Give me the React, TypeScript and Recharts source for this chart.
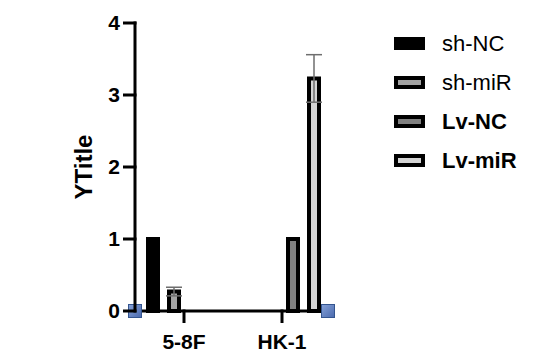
import React from 'react';
import { BarChart, Bar, XAxis, YAxis, ErrorBar } from 'recharts';

const categories = ['5-8F', 'HK-1'];
const shNC = [1, null];
const shMiR = [0.27, null];
const shMiRErr = [0.06, null];
const lvNC = [null, 1];
const lvMiR = [null, 3.23];
const lvMiRErr = [null, 0.33];
const yTicks = [0, 1, 2, 3, 4];

const series = [
  { key: 'shNC', name: 'sh-NC', fill: '#000000', bold: false, err: null },
  { key: 'shMiR', name: 'sh-miR', fill: '#a3a3a3', bold: false, err: 'shMiRErr' },
  { key: 'lvNC', name: 'Lv-NC', fill: '#808080', bold: true, err: null },
  { key: 'lvMiR', name: 'Lv-miR', fill: '#d4d4d4', bold: true, err: 'lvMiRErr' },
];

const data = categories.map((name, i) => ({
  name,
  shNC: shNC[i],
  shMiR: shMiR[i],
  shMiRErr: shMiRErr[i],
  lvNC: lvNC[i],
  lvMiR: lvMiR[i],
  lvMiRErr: lvMiRErr[i],
}));

const FONT = "'Liberation Sans', Arial, Helvetica, sans-serif";
const W = 550;
const H = 359;
const MARGIN = { top: 23, right: 219, bottom: 0, left: 0 };
const Y_WIDTH = 135;
const X_HEIGHT = 48;
const TICK = 12;
const Y_TICK_GAP = 3;
const X_TICK_GAP = 11;
const INK = '#000';
const LINE_W = 3;

// y tick: draws its own tick mark next to the label
function YTick(props: any) {
  const { x, y, payload } = props;
  const x1 = x + Y_TICK_GAP;
  return (
    <g>
      <line x1={x1} x2={x1 + TICK + 1.5} y1={y} y2={y} stroke={INK} strokeWidth={LINE_W} />
      <text x={x} y={y} dy="0.35em" textAnchor="end" fontFamily={FONT} fontSize={21} fontWeight={700} fill={INK}>
        {payload.value}
      </text>
    </g>
  );
}

// x tick: tick mark hangs below the axis, label under it
function XTick(props: any) {
  const { x, y, payload } = props;
  const y2 = y - X_TICK_GAP;
  return (
    <g>
      <line x1={x} x2={x} y1={y2 - TICK - 1.5} y2={y2} stroke={INK} strokeWidth={LINE_W} />
      <text x={x} y={y} dy="0.71em" textAnchor="middle" fontFamily={FONT} fontSize={21} fontWeight={700} fill={INK}>
        {payload.value}
      </text>
    </g>
  );
}

// y axis line + rotated title, placed from the axis viewBox
function YDecor(props: any) {
  const vb = props.viewBox || { x: 0, y: 0, width: 0, height: 0 };
  const ax = vb.x + vb.width;
  const tx = vb.x + 84;
  const ty = vb.y + vb.height / 2;
  return (
    <g>
      <line x1={ax} x2={ax} y1={vb.y - 1.5} y2={vb.y + vb.height + 1.5} stroke={INK} strokeWidth={LINE_W} />
      <text
        x={tx}
        y={ty}
        dy="0.35em"
        transform={`rotate(-90 ${tx} ${ty})`}
        textAnchor="middle"
        fontFamily={FONT}
        fontSize={24}
        fontWeight={700}
        fill={INK}
      >
        YTitle
      </text>
    </g>
  );
}

// x axis line + the blue handles at both of its ends
function XDecor(props: any) {
  const vb = props.viewBox || { x: 0, y: 0, width: 0, height: 0 };
  const left = vb.x;
  const right = vb.x + vb.width - 3;
  return (
    <g>
      <defs>
        <linearGradient id="handleFill" x1="0" y1="0" x2="1" y2="1">
          <stop offset="0%" stopColor="#86a2d8" />
          <stop offset="100%" stopColor="#4a69ad" />
        </linearGradient>
      </defs>
      <line x1={left} x2={right} y1={vb.y} y2={vb.y} stroke={INK} strokeWidth={LINE_W} />
      {[left, right].map((cx) => (
        <rect
          key={cx}
          x={cx - 6.5}
          y={vb.y - 6.5}
          width={13}
          height={13}
          fill="url(#handleFill)"
          stroke="#34558f"
          strokeWidth={1}
        />
      ))}
    </g>
  );
}

function LegendBox() {
  return (
    <div style={{ position: 'absolute', left: 394, top: 24, fontFamily: FONT }}>
      {series.map((s) => (
        <div key={s.key} style={{ display: 'flex', alignItems: 'center', height: 39 }}>
          <div
            style={{
              width: 31,
              height: 13,
              boxSizing: 'border-box',
              border: '4px solid #000',
              background: s.fill,
            }}
          />
          <span
            style={{
              marginLeft: 17,
              fontSize: 22,
              lineHeight: '22px',
              fontWeight: s.bold ? 700 : 400,
              color: '#000',
            }}
          >
            {s.name}
          </span>
        </div>
      ))}
    </div>
  );
}

export default function App() {
  return (
    <div style={{ position: 'absolute', left: 0, top: 0, width: W, height: H, background: '#fff' }}>
      <BarChart width={W} height={H} data={data} margin={MARGIN} barSize={10} barGap={11}>
        <XAxis
          dataKey="name"
          height={X_HEIGHT}
          stroke={INK}
          tickSize={TICK}
          tickMargin={X_TICK_GAP}
          axisLine={false}
          tickLine={false}
          tick={<XTick />}
          interval={0}
          label={XDecor}
        />
        <YAxis
          width={Y_WIDTH}
          domain={[0, 4]}
          ticks={yTicks}
          interval={0}
          stroke={INK}
          tickSize={TICK}
          tickMargin={Y_TICK_GAP}
          axisLine={false}
          tickLine={false}
          tick={<YTick />}
          label={YDecor}
        />
        {series.map((s) => (
          <Bar
            key={s.key}
            dataKey={s.key}
            name={s.name}
            fill={s.fill}
            stroke="#000"
            strokeWidth={4}
            isAnimationActive={false}
          >
            {s.err && <ErrorBar dataKey={s.err} width={8} stroke="#6e6e6e" strokeWidth={1.5} />}
          </Bar>
        ))}
      </BarChart>
      <LegendBox />
    </div>
  );
}
